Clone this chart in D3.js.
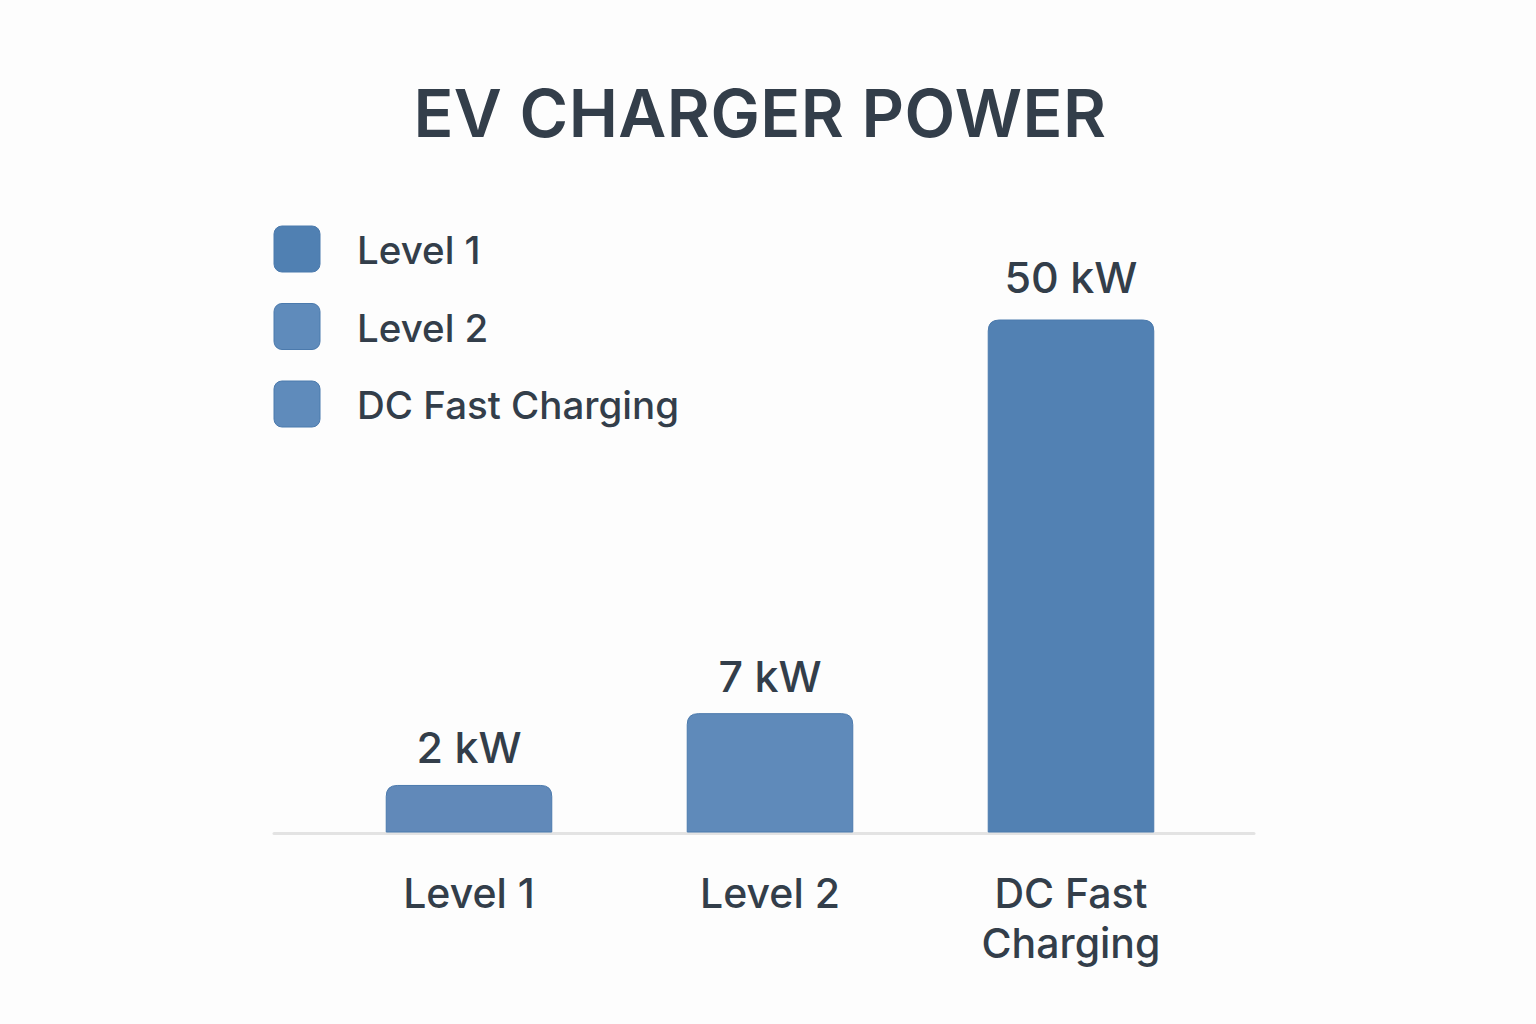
<!DOCTYPE html>
<html>
<head>
<meta charset="utf-8">
<script src="https://cdn.jsdelivr.net/npm/d3@7"></script>
<style>
  body { margin: 0; background: #fdfdfd; }
  svg { display: block; font-family: Inter, "Noto Sans", sans-serif; }
</style>
</head>
<body>
<div id="chart"></div>
<script>
var width = 1536;
var height = 1024;

var categories = ["Level 1", "Level 2", "DC Fast Charging"];
var values = [2, 7, 50];
var valueLabels = ["2 kW", "7 kW", "50 kW"];
var axisLabels = [["Level 1"], ["Level 2"], ["DC Fast", "Charging"]];
var barColors = ["#6189b9", "#5f8aba", "#5281b3"];
var legendColors = ["#5080b2", "#5f8bbb", "#5f8bbb"];

var textColor = "#333e4a";
var baseline = 832;

var svg = d3.select("#chart").append("svg")
  .attr("width", width)
  .attr("height", height);

svg.append("rect")
  .attr("width", width)
  .attr("height", height)
  .attr("fill", "#fdfdfd");

svg.append("text")
  .attr("x", 760)
  .attr("y", 137)
  .attr("text-anchor", "middle")
  .attr("fill", textColor)
  .attr("font-size", 66)
  .attr("font-weight", 600)
  .attr("letter-spacing", 0.5)
  .text("EV CHARGER POWER");

var x = d3.scaleBand()
  .domain(categories)
  .range([320, 1220])
  .paddingInner(0.45)
  .paddingOuter(0.22);

// bar heights in the picture grow slower than linear
var y = d3.scalePow()
  .exponent(0.745)
  .domain([0, 50])
  .range([baseline, 320]);

// axis line
svg.append("line")
  .attr("x1", 274)
  .attr("x2", 1254)
  .attr("y1", baseline + 1.5)
  .attr("y2", baseline + 1.5)
  .attr("stroke", "#e3e3e3")
  .attr("stroke-width", 3)
  .attr("stroke-linecap", "round");

function topRounded(x0, y0, w, h, r) {
  return "M" + x0 + "," + (y0 + h) +
    "V" + (y0 + r) +
    "Q" + x0 + "," + y0 + " " + (x0 + r) + "," + y0 +
    "H" + (x0 + w - r) +
    "Q" + (x0 + w) + "," + y0 + " " + (x0 + w) + "," + (y0 + r) +
    "V" + (y0 + h) + "Z";
}

var bars = svg.append("g");

bars.selectAll("path")
  .data(categories)
  .enter().append("path")
  .attr("d", function(d, i) {
    return topRounded(x(d), y(values[i]), x.bandwidth(), baseline - y(values[i]), 11);
  })
  .attr("fill", function(d, i) { return barColors[i]; })
  .attr("stroke", "#4b7aad")
  .attr("stroke-width", 1);

bars.selectAll("text")
  .data(categories)
  .enter().append("text")
  .attr("x", function(d) { return x(d) + x.bandwidth() / 2; })
  .attr("y", function(d, i) { return y(values[i]) - (i === 2 ? 27 : 22); })
  .attr("text-anchor", "middle")
  .attr("fill", textColor)
  .attr("font-size", 43)
  .attr("font-weight", 500)
  .text(function(d, i) { return valueLabels[i]; });

var ticks = svg.append("g");

ticks.selectAll("text")
  .data(categories)
  .enter().append("text")
  .attr("x", function(d) { return x(d) + x.bandwidth() / 2; })
  .attr("y", 908)
  .attr("text-anchor", "middle")
  .attr("fill", textColor)
  .attr("font-size", 41)
  .attr("font-weight", 500)
  .each(function(d, i) {
    var t = d3.select(this);
    axisLabels[i].forEach(function(line, j) {
      t.append("tspan")
        .attr("x", x(d) + x.bandwidth() / 2)
        .attr("dy", j === 0 ? 0 : 50)
        .text(line);
    });
  });

var legend = svg.append("g");

var item = legend.selectAll("g")
  .data(categories)
  .enter().append("g")
  .attr("transform", function(d, i) { return "translate(274," + (226 + i * 77.5) + ")"; });

item.append("rect")
  .attr("width", 46)
  .attr("height", 46)
  .attr("rx", 8)
  .attr("fill", function(d, i) { return legendColors[i]; })
  .attr("stroke", "#4b7aad")
  .attr("stroke-width", 1);

item.append("text")
  .attr("x", 83)
  .attr("y", 38)
  .attr("fill", textColor)
  .attr("font-size", 38.5)
  .attr("font-weight", 500)
  .text(function(d) { return d; });
</script>
</body>
</html>
